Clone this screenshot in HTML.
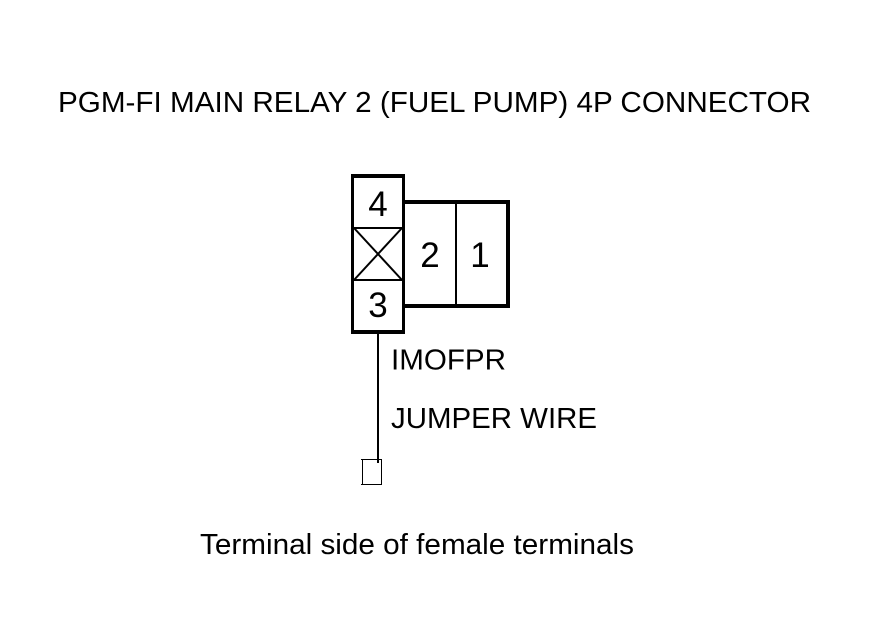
<!DOCTYPE html>
<html>
<head>
<meta charset="utf-8">
<style>
html,body{margin:0;padding:0;background:#fff;}
svg{display:block;}
text{font-family:"Liberation Sans",sans-serif;fill:#000;}
</style>
</head>
<body>
<svg width="880" height="630" viewBox="0 0 880 630" xmlns="http://www.w3.org/2000/svg">
<rect width="880" height="630" fill="#fff"/>
<text x="58" y="112" font-size="29" textLength="753" lengthAdjust="spacingAndGlyphs">PGM-FI MAIN RELAY 2 (FUEL PUMP) 4P CONNECTOR</text>
<g fill="#000" shape-rendering="crispEdges">
<rect x="351" y="174" width="54" height="4"/>
<rect x="351" y="330" width="54" height="4"/>
<rect x="351" y="174" width="3" height="160"/>
<rect x="402" y="174" width="3" height="160"/>
<rect x="405" y="200" width="105" height="4"/>
<rect x="405" y="304" width="105" height="4"/>
<rect x="506" y="200" width="4" height="108"/>
<rect x="455" y="204" width="2" height="100"/>
<rect x="354" y="227" width="48" height="2"/>
<rect x="354" y="279" width="48" height="2"/>
<rect x="377" y="334" width="2" height="129"/>
<rect x="362" y="459" width="20" height="1"/>
<rect x="362" y="484" width="20" height="1"/>
<rect x="362" y="459" width="1" height="26"/>
<rect x="381" y="459" width="1" height="26"/>
<rect x="361" y="459" width="1" height="1"/>
<rect x="361" y="484" width="1" height="1"/>
</g>
<g stroke="#000" stroke-width="2" fill="none">
<line x1="354" y1="228" x2="402" y2="280"/>
<line x1="402" y1="228" x2="354" y2="280"/>
</g>
<text x="378" y="216" font-size="35" text-anchor="middle">4</text>
<text x="378" y="317" font-size="35" text-anchor="middle">3</text>
<text x="430" y="267" font-size="35" text-anchor="middle">2</text>
<text x="480" y="267" font-size="35" text-anchor="middle">1</text>
<text x="391" y="369.5" font-size="29" textLength="115" lengthAdjust="spacingAndGlyphs">IMOFPR</text>
<text x="391" y="428" font-size="29" textLength="206" lengthAdjust="spacingAndGlyphs">JUMPER WIRE</text>
<text x="200" y="554" font-size="29" textLength="434" lengthAdjust="spacingAndGlyphs">Terminal side of female terminals</text>
</svg>
</body>
</html>
